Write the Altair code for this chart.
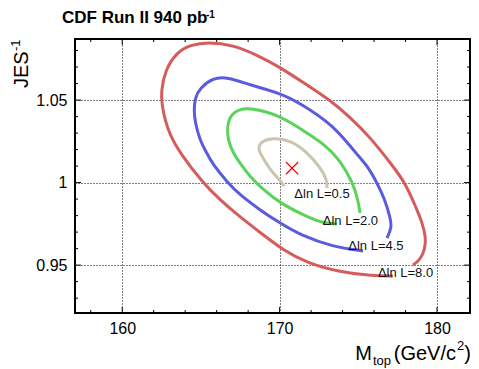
import altair as alt
import pandas as pd

# ---- data ----
red_x = [178.47,178.92,179.23,179.30,179.05,178.60,177.97,177.14,175.74,174.47,173.20,171.93,170.02,168.56,167.04,165.45,164.31,163.48,162.72,162.46,162.53,162.72,163.04,163.67,165.13,166.21,167.48,168.88,170.21,171.74,173.84,175.93,177.20]
red_y = [0.9501,0.9531,0.9592,0.9670,0.9761,0.9864,1.0000,1.0107,1.0276,1.0397,1.0500,1.0579,1.0700,1.0773,1.0834,1.0852,1.0834,1.0791,1.0682,1.0549,1.0470,1.0379,1.0288,1.0179,0.9998,0.9895,0.9792,0.9689,0.9592,0.9513,0.9458,0.9434,0.9434]

blue_x = [176.82,177.14,177.01,176.70,176.19,175.55,174.66,173.39,171.29,170.02,168.12,166.66,165.77,164.94,164.62,164.56,164.62,164.94,165.26,165.77,166.72,167.48,168.75,170.02,171.29,173.39,175.30]
blue_y = [0.9664,0.9731,0.9792,0.9895,0.9998,1.0107,1.0198,1.0349,1.0482,1.0543,1.0591,1.0640,1.0634,1.0573,1.0513,1.0440,1.0367,1.0258,1.0198,1.0107,0.9998,0.9925,0.9834,0.9755,0.9683,0.9610,0.9586]

green_x = [175.11,174.98,174.66,173.84,172.88,171.93,170.02,168.12,167.48,166.85,166.66,166.72,167.04,167.48,168.12,169.07,170.02,171.74,172.76,173.65]
green_y = [0.9816,0.9895,0.9998,1.0137,1.0228,1.0288,1.0410,1.0452,1.0446,1.0410,1.0331,1.0258,1.0179,1.0119,1.0034,0.9949,0.9876,0.9792,0.9755,0.9749]

tan_x = [173.01,173.01,172.57,171.74,170.66,169.58,168.88,168.63,168.75,169.39,170.02,170.28]
tan_y = [0.9967,1.0016,1.0095,1.0185,1.0258,1.0270,1.0252,1.0216,1.0179,1.0076,1.0016,0.9979]

levels = ["0.5", "2.0", "4.5", "8.0"]
level_colors = ["#cbc4ae", "#5ad35a", "#5b5be0", "#d65c5c"]

label_text = ["\u0394ln L=0.5", "\u0394ln L=2.0", "\u0394ln L=4.5", "\u0394ln L=8.0"]
label_x = [172.69, 174.50, 176.12, 178.00]
label_y = [0.9931, 0.9767, 0.9616, 0.9452]

best_x = [170.79]
best_y = [1.0088]

x_major = [160, 170, 180]
x_minor = [158, 162, 164, 166, 168, 172, 174, 176, 178]
y_major = [0.95, 1.0, 1.05]
y_minor = [0.93, 0.94, 0.96, 0.97, 0.98, 0.99, 1.01, 1.02, 1.03, 1.04, 1.06, 1.07, 1.08]

W, H = 395, 274
X_DOMAIN = [157.0, 157.0 + W / 15.74]
Y_DOMAIN = [0.921, 1.087]
FONT = "Liberation Sans"

# ---- build tables ----
rows = []
for lvl, xs_, ys_ in [("8.0", red_x, red_y), ("4.5", blue_x, blue_y),
                      ("2.0", green_x, green_y), ("0.5", tan_x, tan_y)]:
    for i, (a, b) in enumerate(zip(xs_, ys_)):
        rows.append({"level": lvl, "x": a, "y": b, "o": i})
contours = pd.DataFrame(rows)

xs = alt.Scale(domain=X_DOMAIN, nice=False, zero=False)
ys = alt.Scale(domain=Y_DOMAIN, nice=False, zero=False)

xaxis = alt.Axis(values=x_major, ticks=False, tickSize=0, domain=False, grid=True,
                 gridDash=[1, 2], gridColor="#000000", gridWidth=1, gridOpacity=1,
                 labelFont=FONT, labelFontSize=16, labelColor="#000000",
                 labelPadding=7, title=None, format="~g")
yaxis = alt.Axis(values=y_major, ticks=False, tickSize=0, domain=False, grid=True,
                 gridDash=[1, 2], gridColor="#000000", gridWidth=1, gridOpacity=1,
                 labelFont=FONT, labelFontSize=16, labelColor="#000000",
                 labelPadding=8, title=None, format="~g")

base_axes = alt.Chart(pd.DataFrame({"x": X_DOMAIN, "y": Y_DOMAIN})).mark_point(opacity=0).encode(
    x=alt.X("x:Q", scale=xs, axis=xaxis),
    y=alt.Y("y:Q", scale=ys, axis=yaxis),
)

lines = alt.Chart(contours).mark_line(interpolate="basis", strokeWidth=3).encode(
    x=alt.X("x:Q", scale=xs),
    y=alt.Y("y:Q", scale=ys),
    color=alt.Color("level:N", scale=alt.Scale(domain=levels, range=level_colors), legend=None),
    detail="level:N",
    order="o:Q",
)

labels = alt.Chart(pd.DataFrame({"t": label_text, "x": label_x, "y": label_y})).mark_text(
    font=FONT, fontSize=13, color="#111111", align="center", baseline="middle"
).encode(x=alt.X("x:Q", scale=xs), y=alt.Y("y:Q", scale=ys), text="t:N")

best = alt.Chart(pd.DataFrame({"x": best_x, "y": best_y})).mark_point(
    shape="M-1,-1L1,1M1,-1L-1,1", size=150, filled=False, stroke="#ff0000", strokeWidth=1.2, opacity=1
).encode(x=alt.X("x:Q", scale=xs), y=alt.Y("y:Q", scale=ys))

def xticks(vals, y0, y1):
    return alt.Chart(pd.DataFrame({"v": vals})).mark_rule(color="#000000", strokeWidth=1).encode(
        x=alt.X("v:Q", scale=xs), y=alt.value(y0), y2=alt.value(y1))

def yticks(vals, x0, x1):
    return alt.Chart(pd.DataFrame({"v": vals})).mark_rule(color="#000000", strokeWidth=1).encode(
        y=alt.Y("v:Q", scale=ys), x=alt.value(x0), x2=alt.value(x1))

ticks = [
    xticks(x_major, H, H - 6), xticks(x_minor, H, H - 3),
    xticks(x_major, 0, 6), xticks(x_minor, 0, 3),
    yticks(y_major, 0, 6), yticks(y_minor, 0, 3),
    yticks(y_major, W, W - 6), yticks(y_minor, W, W - 3),
]

def txt(s, x, y, size, weight="normal", angle=0, align="left"):
    return alt.Chart(pd.DataFrame({"t": [s]})).mark_text(
        font=FONT, fontSize=size, fontWeight=weight, angle=angle, align=align,
        baseline="alphabetic", color="#000000"
    ).encode(x=alt.value(x), y=alt.value(y), text="t:N")

texts = [
    txt("CDF Run II 940 pb", -13, -16, 17, "bold"),
    txt("-1", 131, -21, 10, "bold"),
    txt("JES", -47, 49, 20, angle=270),
    txt("-1", -55, 12, 13, angle=270),
    txt("M", 297, 321, 20, align="right"),
    txt("top", 298, 326, 13),
    txt("(GeV/c", 381, 321, 20, align="right"),
    txt("2", 382, 311, 13),
    txt(")", 396, 321, 20, align="right"),
]

chart = alt.layer(base_axes, *ticks, lines, labels, best, *texts).properties(
    width=W, height=H,
    padding={"left": 67, "top": 31, "right": 1, "bottom": 56},
    autosize=alt.AutoSizeParams(type="none"),
    background="#ffffff",
).configure_view(stroke="#000000", strokeWidth=2)

chart.save("out.html", embed_options={"renderer": "svg", "actions": False})
